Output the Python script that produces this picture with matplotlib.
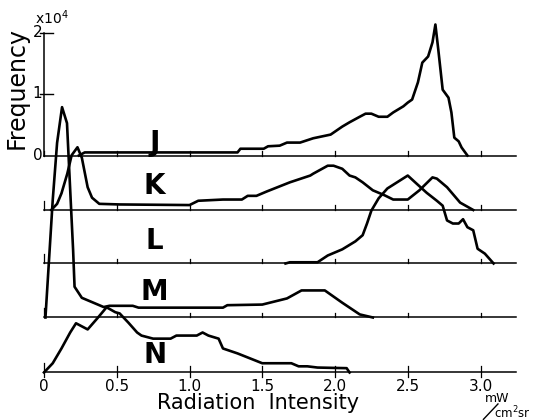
import numpy as np
import matplotlib
matplotlib.use("Agg")
import matplotlib.pyplot as plt

# radiation intensity (mW/cm2 sr) vs frequency (x10^4)
J_x = [0.24, 0.28, 0.93, 1.33, 1.35, 1.51, 1.54, 1.62, 1.67, 1.76, 1.85, 1.97, 2.05, 2.1, 2.17, 2.21, 2.25, 2.3,
       2.36, 2.4, 2.47, 2.5, 2.53, 2.57, 2.6, 2.64, 2.67, 2.69, 2.71, 2.74, 2.78, 2.8, 2.82, 2.85, 2.87, 2.91]
J_y = [0.0, 0.05, 0.05, 0.05, 0.11, 0.11, 0.15, 0.16, 0.21, 0.21, 0.28, 0.34, 0.47, 0.54, 0.63, 0.68, 0.68, 0.63,
       0.63, 0.70, 0.80, 0.86, 0.91, 1.19, 1.51, 1.61, 1.84, 2.13, 1.72, 1.07, 0.94, 0.70, 0.29, 0.23, 0.13, 0.0]

K_x = [0.05, 0.09, 0.12, 0.16, 0.19, 0.23, 0.26, 0.30, 0.33, 0.38, 0.52, 1.0, 1.06, 1.23, 1.36, 1.40, 1.46, 1.53,
       1.69, 1.83, 1.85, 1.95, 1.99, 2.05, 2.10, 2.14, 2.19, 2.26, 2.34, 2.40, 2.50, 2.58, 2.67, 2.70, 2.77, 2.86, 2.95]
K_y = [0.0, 0.1, 0.27, 0.59, 0.89, 1.02, 0.85, 0.37, 0.2, 0.1, 0.09, 0.08, 0.15, 0.17, 0.17, 0.23, 0.23, 0.3,
       0.45, 0.56, 0.59, 0.72, 0.72, 0.67, 0.56, 0.53, 0.45, 0.32, 0.24, 0.17, 0.17, 0.32, 0.53, 0.51, 0.37, 0.12, 0.0]

L_x = [1.66, 1.69, 1.88, 1.95, 1.99, 2.05, 2.14, 2.19, 2.22, 2.25, 2.30, 2.36, 2.50, 2.56, 2.63, 2.70, 2.74,
       2.77, 2.81, 2.85, 2.88, 2.91, 2.95, 2.98, 3.03, 3.09]
L_y = [0.0, 0.02, 0.02, 0.13, 0.17, 0.23, 0.36, 0.46, 0.65, 0.86, 1.06, 1.22, 1.43, 1.30, 1.15, 1.02, 0.94,
       0.70, 0.65, 0.65, 0.72, 0.59, 0.54, 0.24, 0.16, 0.0]

M_x = [0.01, 0.06, 0.09, 0.124, 0.158, 0.185, 0.20, 0.21, 0.26, 0.41, 0.45, 0.61, 0.65, 0.93, 1.23, 1.26,
       1.50, 1.67, 1.77, 1.93, 2.05, 2.17, 2.26]
M_y = [0.0, 1.91, 2.84, 3.42, 3.16, 1.83, 1.10, 0.50, 0.32, 0.17, 0.19, 0.19, 0.16, 0.16, 0.16, 0.2,
       0.21, 0.31, 0.44, 0.44, 0.24, 0.05, 0.0]

N_x = [0.0, 0.06, 0.12, 0.18, 0.22, 0.26, 0.30, 0.37, 0.43, 0.49, 0.52, 0.58, 0.64, 0.67, 0.75, 0.87, 0.91,
       1.05, 1.09, 1.13, 1.20, 1.23, 1.33, 1.50, 1.70, 1.75, 1.81, 1.88, 2.08, 2.10]
N_y = [0.0, 0.15, 0.39, 0.65, 0.80, 0.75, 0.70, 0.89, 1.06, 0.98, 0.96, 0.81, 0.65, 0.60, 0.55, 0.55, 0.60,
       0.60, 0.65, 0.60, 0.55, 0.39, 0.31, 0.15, 0.15, 0.10, 0.10, 0.08, 0.07, 0.0]

names = ["J", "K", "L", "M", "N"]
series = [(J_x, J_y), (K_x, K_y), (L_x, L_y), (M_x, M_y), (N_x, N_y)]
offsets = [0.0, -0.886, -1.756, -2.634, -3.528]   # stacked baselines
label_lift = [0.21, 0.39, 0.37, 0.41, 0.28]
x_ticks = [0.0, 0.5, 1.0, 1.5, 2.0, 2.5, 3.0]
x_tick_labels = ["0", "0.5", "1.0", "1.5", "2.0", "2.5", "3.0"]
freq_ticks = [0, 1, 2]

# scan scale: 145.5 px per unit intensity, 61.5 px per 1e4 counts
fig = plt.figure(figsize=(5.33, 4.2), dpi=100)
ax = fig.add_axes([0, 0, 1, 1])
ax.set_xlim(-44 / 145.5, (533 - 44) / 145.5)
ax.set_ylim(-(420 - 155.5) / 61.5, 155.5 / 61.5)
ax.axis("off")

x_end = 3.245
for i, ((xs, ys), off) in enumerate(zip(series, offsets)):
    ax.plot([0, x_end], [off, off], color="black", lw=1.1)
    for t in x_ticks:
        if i == len(series) - 1:
            lo, hi = off - 0.08, off + (0.15 if t == 0 else 0.1)
        else:
            lo, hi = off, off + (0.15 if (t == 0 and i > 0) else 0.08)
        ax.plot([t, t], [lo, hi], color="black", lw=0.9)
    ax.plot(xs, np.array(ys) + off, color="black", lw=1.9, solid_joinstyle="round")
    ax.text(0.76, off + label_lift[i], names[i], fontsize=20, fontweight="bold",
            ha="center", va="center")

# frequency axis on the top trace
ax.plot([0, 0], [0, freq_ticks[-1]], color="black", lw=1.1)
for f in freq_ticks:
    if f > 0:
        ax.plot([-0.025, 0.06], [f, f], color="black", lw=1.0)
    ax.text(-0.012, f, str(f), fontsize=11, ha="right", va="center")
ax.text(0.055, 2.24, r"x10$^4$", fontsize=10, ha="center", va="center")
ax.text(-0.19, 1.1, "Frequency", fontsize=17, rotation=90, ha="center", va="center")

# intensity labels under the bottom trace
for t, lab in zip(x_ticks, x_tick_labels):
    ax.text(t, -3.748, lab, fontsize=11, ha="center", va="center")
ax.text(1.47, -4.02, "Radiation  Intensity", fontsize=15, ha="center", va="center")

# unit  mW / cm2 sr
ax.text(3.115, -3.95, "mW", fontsize=9, ha="center", va="center")
ax.text(3.345, -4.18, r"cm$^2$sr", fontsize=8.5, ha="right", va="center")
ax.plot([3.02, 3.12], [-4.29, -4.04], color="black", lw=1.0)

fig.savefig("out.png", dpi=100)
